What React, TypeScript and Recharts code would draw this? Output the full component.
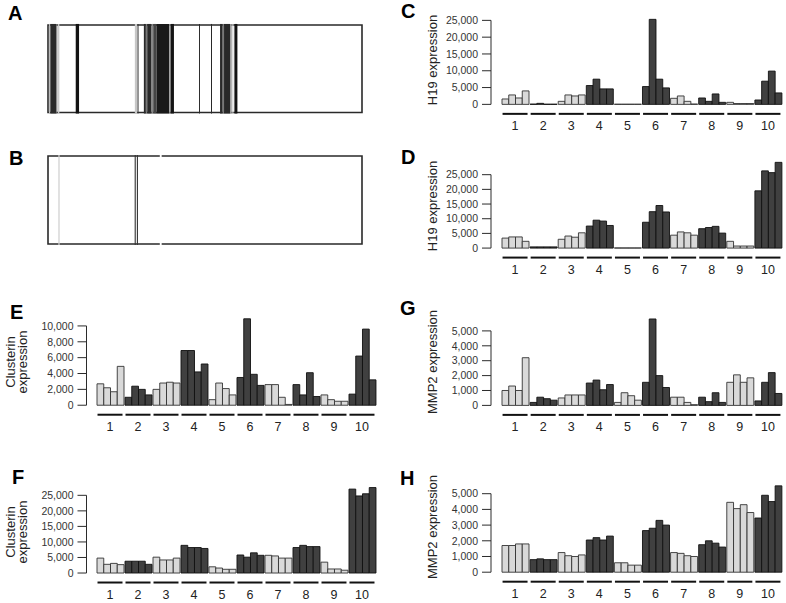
import React from "react";
import {
  BarChart,
  Bar,
  ComposedChart,
  XAxis,
  YAxis,
  Cell,
  ReferenceLine,
  ReferenceArea,
} from "recharts";

const FONT = '"Liberation Sans", Arial, Helvetica, sans-serif';
const INK = "#2a2a2a";
const LIGHT = "#d9d9d9";
const DARK = "#404040";

// sample groups, 4 samples each
const groups = ["1", "2", "3", "4", "5", "6", "7", "8", "9", "10"];
const groupShade = ["light", "dark", "light", "dark", "light", "dark", "light", "dark", "light", "dark"];

// C: H19 expression
const h19C = [
  1600, 2800, 1900, 4000,
  80, 300, 50, 50,
  900, 2800, 2500, 2800,
  5600, 7500, 4600, 4600,
  50, 50, 50, 50,
  5300, 25300, 7500, 4900,
  1800, 2500, 900, 100,
  1900, 900, 3100, 600,
  600, 250, 250, 250,
  1300, 6900, 9900, 3400,
];

// D: H19 expression
const h19D = [
  3400, 3800, 3800, 2300,
  400, 400, 400, 400,
  3000, 4100, 3700, 5200,
  7500, 9500, 9200, 7700,
  50, 50, 50, 50,
  8800, 12400, 14500, 12300,
  4400, 5500, 5200, 4400,
  6600, 7000, 7400, 5100,
  2300, 700, 700, 700,
  19500, 26300, 25700, 29200,
];

// E: Clusterin expression
const clusterinE = [
  2700, 2200, 1700, 4900,
  1000, 2400, 2000, 1300,
  2000, 2800, 2900, 2800,
  6900, 6900, 4200, 5200,
  700, 2800, 2100, 1300,
  3500, 10900, 3900, 2500,
  2600, 2600, 1000, 100,
  2600, 1300, 4100, 1100,
  1300, 700, 500, 500,
  1400, 6200, 9600, 3200,
];

// F: Clusterin expression
const clusterinF = [
  4800, 2800, 3100, 2700,
  3800, 3800, 3800, 2800,
  5100, 4200, 4200, 4800,
  8900, 8200, 8200, 7900,
  2000, 1600, 1200, 1200,
  5800, 5100, 6500, 5700,
  5700, 5500, 4800, 4800,
  8200, 8900, 8500, 8500,
  3500, 1300, 1300, 900,
  27000, 24800, 25500, 27500,
];

// G: MMP2 expression
const mmp2G = [
  1000, 1300, 1000, 3200,
  200, 550, 450, 350,
  500, 700, 700, 700,
  1500, 1700, 1050, 1400,
  200, 850, 650, 350,
  1550, 5800, 2000, 1200,
  550, 550, 200, 50,
  550, 250, 850, 200,
  1550, 2050, 1550, 1850,
  300, 1550, 2200, 800,
];

// H: MMP2 expression
const mmp2H = [
  1700, 1700, 1800, 1800,
  800, 850, 800, 800,
  1250, 1050, 1000, 1100,
  2050, 2200, 2050, 2300,
  600, 600, 450, 450,
  2650, 2800, 3300, 3000,
  1250, 1200, 1050, 1000,
  1750, 2000, 1850, 1600,
  4450, 4050, 4300, 3800,
  3450, 4900, 4500, 5500,
];

const ticks25k = [0, 5000, 10000, 15000, 20000, 25000];
const ticks10k = [0, 2000, 4000, 6000, 8000, 10000];
const ticks5k = [0, 1000, 2000, 3000, 4000, 5000];

// barcode stripes: [start %, end %, intensity 0 = white .. 1 = black]
const stripesA: [number, number, number][] = [
  [0.3, 0.74, 0.27],
  [0.74, 2.66, 0.83],
  [2.66, 2.98, 0.53],
  [3.19, 3.62, 0.2],
  [8.83, 9.89, 0.93],
  [27.66, 28.4, 0.22],
  [28.51, 28.83, 0.8],
  [30.53, 31.17, 0.84],
  [31.17, 31.6, 0.53],
  [31.6, 32.98, 0.84],
  [32.98, 33.51, 0.47],
  [33.51, 34.57, 0.73],
  [34.57, 38.62, 0.9],
  [38.62, 39.04, 0.4],
  [39.04, 40.11, 0.92],
  [48.09, 48.4, 0.84],
  [51.91, 52.23, 0.84],
  [54.79, 55.64, 0.84],
  [55.64, 56.06, 0.53],
  [56.06, 57.98, 0.84],
  [57.98, 58.51, 0.4],
  [58.72, 59.04, 0.2],
  [59.36, 60.32, 0.93],
];
const stripesB: [number, number, number][] = [
  [3.3, 3.7, 0.18],
  [27.6, 27.95, 0.8],
  [28.3, 28.65, 0.8],
  [35.6, 36.2, 0],
];

const shade = (k: number) => {
  const v = Math.round(255 * (1 - k));
  return `rgb(${v},${v},${v})`;
};

const fmt = (v: number) => v.toLocaleString("en-US");

function toRows(values: number[]) {
  return groups.map((g, i) => ({
    g,
    s0: values[i * 4],
    s1: values[i * 4 + 1],
    s2: values[i * 4 + 2],
    s3: values[i * 4 + 3],
  }));
}

function GroupTick({ x, y, payload }: any) {
  return (
    <g>
      <line x1={x - 12.5} x2={x + 12.5} y1={y + 9.5} y2={y + 9.5} stroke="#111" strokeWidth={2} />
      <text x={x} y={y + 26} textAnchor="middle" fontSize={12.5} fill="#222" fontFamily={FONT}>
        {payload.value}
      </text>
    </g>
  );
}

interface PanelProps {
  values: number[];
  ticks: number[];
  dMax: number;
  left: number;
  axisX: number;
  barsStart: number;
  barsEnd: number;
  y0: number;
  yTopTick: number;
}

function ExprPanel({ values, ticks, dMax, left, axisX, barsStart, barsEnd, y0, yTopTick }: PanelProps) {
  const topTick = ticks[ticks.length - 1];
  const pxPer = (y0 - yTopTick) / topTick;
  const plotTop = y0 - dMax * pxPer;
  const mt = 4;
  const axisH = 34;
  const top = plotTop - mt;
  const width = barsEnd - left + 2;
  const height = y0 - top + axisH;
  const rows = toRows(values);
  return (
    <div style={{ position: "absolute", left, top }}>
      <BarChart
        width={width}
        height={height}
        data={rows}
        margin={{ top: mt, right: 2, bottom: 0, left: 0 }}
        barGap={0}
        barSize={6.75}
      >
        <XAxis
          dataKey="g"
          interval={0}
          padding={{ left: barsStart - axisX, right: 0 }}
          axisLine={false}
          tickLine={false}
          tickSize={0}
          tickMargin={0}
          height={axisH}
          tick={(p: any) => <GroupTick {...p} />}
        />
        <XAxis xAxisId="n" type="number" domain={[0, 1]} hide />
        <YAxis
          type="number"
          domain={[0, dMax]}
          ticks={ticks}
          interval={0}
          width={axisX - left}
          axisLine={false}
          tickLine={{ stroke: INK }}
          tickSize={9}
          tickMargin={4}
          tick={{ fontSize: 10.5, fill: "#333", fontFamily: FONT }}
          tickFormatter={fmt}
        />
        <ReferenceLine
          xAxisId="n"
          segment={[{ x: 0, y: 0 }, { x: 0, y: topTick }]}
          stroke={INK}
          ifOverflow="visible"
        />
        {["s0", "s1", "s2", "s3"].map((k) => (
          <Bar key={k} dataKey={k} isAnimationActive={false} strokeWidth={0.9}>
            {rows.map((r, i) => (
              <Cell
                key={r.g}
                fill={groupShade[i] === "light" ? LIGHT : DARK}
                stroke={groupShade[i] === "light" ? "#333" : "#111"}
              />
            ))}
          </Bar>
        ))}
      </BarChart>
    </div>
  );
}

function Barcode({ stripes, left, top, width, height }: { stripes: [number, number, number][]; left: number; top: number; width: number; height: number }) {
  const m = 3;
  const rows = stripes.map(([a, b, k]) => ({ start: a, end: b, k }));
  return (
    <div style={{ position: "absolute", left: left - m, top: top - m }}>
      <ComposedChart
        width={width + 2 * m}
        height={height + 2 * m}
        data={rows}
        margin={{ top: m, right: m, bottom: m, left: m }}
      >
        <XAxis dataKey="start" type="number" domain={[0, 100]} allowDataOverflow hide />
        <YAxis type="number" domain={[0, 1]} allowDataOverflow hide />
        <ReferenceArea x1={0} x2={100} y1={0} y2={1} fill="#fff" fillOpacity={1} stroke={INK} strokeWidth={1.6} />
        {rows.map((r, i) => (
          <ReferenceArea
            key={i}
            x1={r.start}
            x2={r.end}
            y1={-0.012}
            y2={1.012}
            ifOverflow="visible"
            fill={shade(r.k)}
            fillOpacity={1}
            stroke="none"
          />
        ))}
      </ComposedChart>
    </div>
  );
}

function Letter({ ch, x, y }: { ch: string; x: number; y: number }) {
  // y is the cap top of the glyph
  return (
    <div style={{ position: "absolute", left: x, top: y - 2.6, fontFamily: FONT, fontWeight: "bold", fontSize: 20, lineHeight: "20px", color: "#000" }}>
      {ch}
    </div>
  );
}

function YLabel({ lines, cx, cy }: { lines: string[]; cx: number; cy: number }) {
  return (
    <div
      style={{
        position: "absolute",
        left: cx,
        top: cy,
        transform: "translate(-50%, -50%) rotate(-90deg)",
        fontFamily: FONT,
        fontSize: 13,
        lineHeight: "12px",
        color: "#222",
        whiteSpace: "nowrap",
        textAlign: "center",
      }}
    >
      {lines.map((l) => (
        <div key={l}>{l}</div>
      ))}
    </div>
  );
}

export default function App() {
  const right = { left: 400, axisX: 491, barsStart: 501, barsEnd: 782 };
  const leftSide = { left: 0, axisX: 86.5, barsStart: 96, barsEnd: 376 };
  return (
    <div style={{ position: "absolute", left: 0, top: 0, width: 786, height: 603, background: "#fff", overflow: "hidden" }}>
      <Letter ch="A" x={8} y={6} />
      <Letter ch="B" x={9} y={151} />
      <Letter ch="C" x={401} y={4} />
      <Letter ch="D" x={401} y={150} />
      <Letter ch="E" x={10} y={305} />
      <Letter ch="F" x={12} y={470} />
      <Letter ch="G" x={400} y={301} />
      <Letter ch="H" x={400} y={471} />

      <Barcode stripes={stripesA} left={48} top={25} width={314} height={87.5} />
      <Barcode stripes={stripesB} left={48} top={156} width={314} height={88} />

      <YLabel lines={["H19 expression"]} cx={433} cy={60} />
      <YLabel lines={["H19 expression"]} cx={433} cy={206} />
      <YLabel lines={["Clusterin", "expression"]} cx={17} cy={362} />
      <YLabel lines={["Clusterin", "expression"]} cx={17} cy={532} />
      <YLabel lines={["MMP2 expression"]} cx={433} cy={362} />
      <YLabel lines={["MMP2 expression"]} cx={433} cy={527} />

      <ExprPanel values={h19C} ticks={ticks25k} dMax={26000} y0={104} yTopTick={20} {...right} />
      <ExprPanel values={h19D} ticks={ticks25k} dMax={30000} y0={247.7} yTopTick={174.3} {...right} />
      <ExprPanel values={clusterinE} ticks={ticks10k} dMax={11000} y0={405.3} yTopTick={326} {...leftSide} />
      <ExprPanel values={clusterinF} ticks={ticks25k} dMax={28000} y0={572.7} yTopTick={495} {...leftSide} />
      <ExprPanel values={mmp2G} ticks={ticks5k} dMax={6000} y0={405} yTopTick={330.5} {...right} />
      <ExprPanel values={mmp2H} ticks={ticks5k} dMax={6000} y0={572.5} yTopTick={494} {...right} />
    </div>
  );
}
